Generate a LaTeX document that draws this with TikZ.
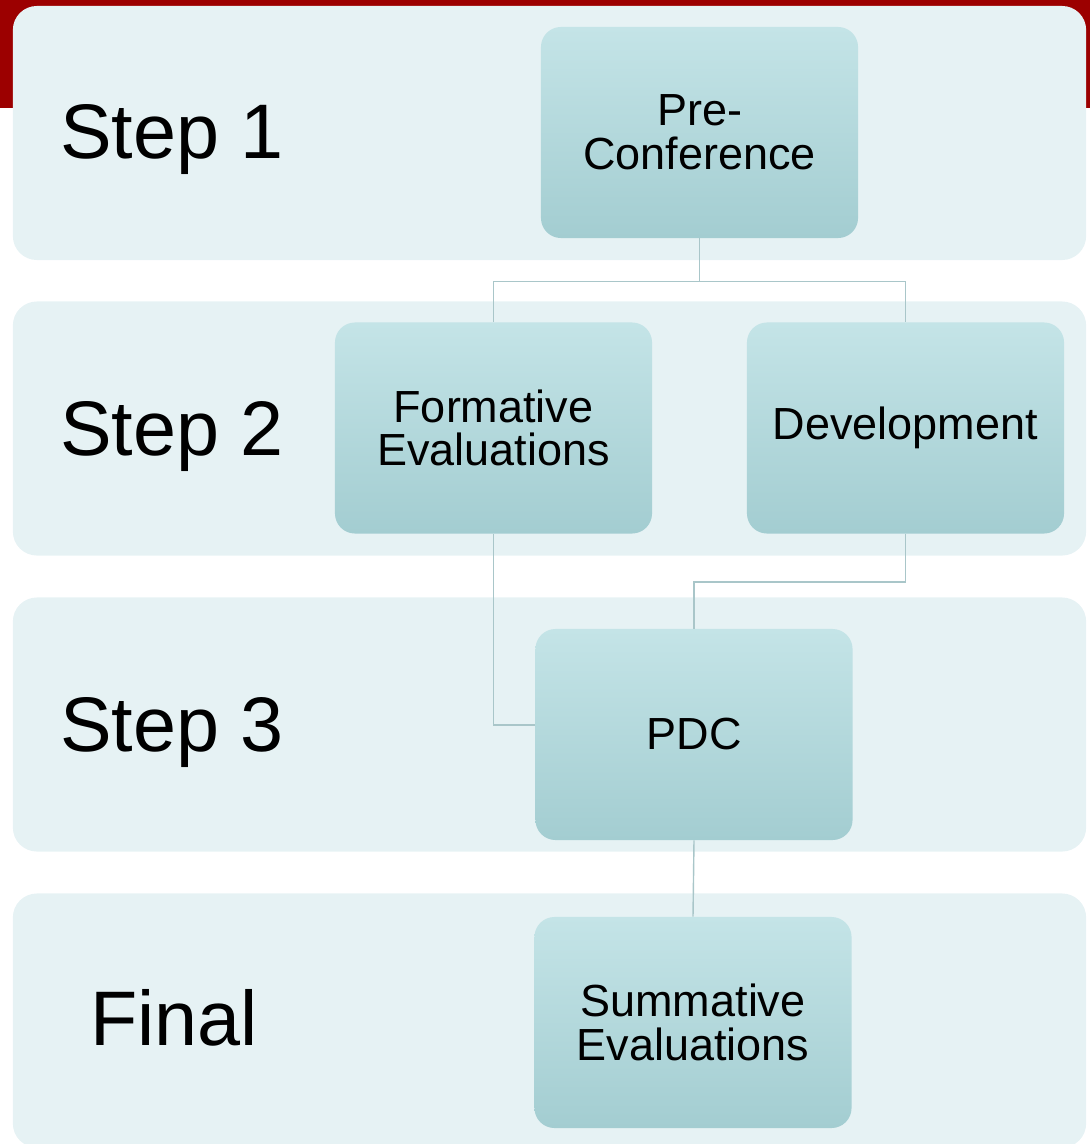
\documentclass[tikz,border=0pt]{standalone}
\usepackage{fontspec}
\setmainfont{Liberation Sans}
\usepackage{xcolor}

\definecolor{topred}{HTML}{9C0000}
\definecolor{bandfill}{HTML}{E6F2F4}
\definecolor{boxtop}{HTML}{C4E4E7}
\definecolor{boxbottom}{HTML}{A3CDD1}
\definecolor{linkline}{HTML}{A9C6C9}

\begin{document}
\begin{tikzpicture}[x=0.025cm, y=-0.025cm,
    band/.style={fill=bandfill, rounded corners=0.6cm, minimum width=26.825cm,
        minimum height=6.35cm, inner sep=0},
    steplabel/.style={anchor=base, font=\fontsize{55}{55}\selectfont},
    stepbox/.style={top color=boxtop, bottom color=boxbottom, draw=none,
        rounded corners=0.5cm, minimum width=7.925cm, minimum height=5.275cm,
        align=center, font=\fontsize{32}{31}\selectfont},
    link/.style={draw=linkline, line width=1pt}]

    \useasboundingbox (0,0) rectangle (1090,1144);

    % Header strip
    \fill[topred] (0,0) rectangle (1090,108);

    % Bands
    \node[band] (band1) at (549.5, 133) {};
    \node[band] (band2) at (549.5, 428.5) {};
    \node[band] (band3) at (549.5, 724.5) {};
    \node[band] (band4) at (549.5, 1020.5) {};

    % Step labels
    \node[steplabel] (lab1) at (172, 158) {Step 1};
    \node[steplabel] (lab2) at (172, 455) {Step 2};
    \node[steplabel] (lab3) at (172, 751) {Step 3};
    \node[steplabel] (lab4) at (174, 1045) {Final};

    % Boxes
    \node[stepbox] (pre) at (699.5, 132.5) {Pre-\\Conference};
    \node[stepbox] (form) at (493.5, 428) {Formative\\Evaluations};
    \node[stepbox] (dev) at (905.5, 428) {Development};
    \node[stepbox] (pdc) at (694, 734.5) {PDC};
    \node[stepbox] (summ) at (693, 1022.5) {Summative\\Evaluations};

    % Lines
    \draw[link] (pre.south) -- ++(0,43) -| (form.north);
    \draw[link] (pre.south) -- ++(0,43) -| (dev.north);
    \draw[link] (form.south) |- ([yshift=0.24cm]pdc.west);
    \draw[link] (dev.south) -- ++(0,48) -| (pdc.north);
    \draw[link] (pdc.south) -- (summ.north);

\end{tikzpicture}
\end{document}
